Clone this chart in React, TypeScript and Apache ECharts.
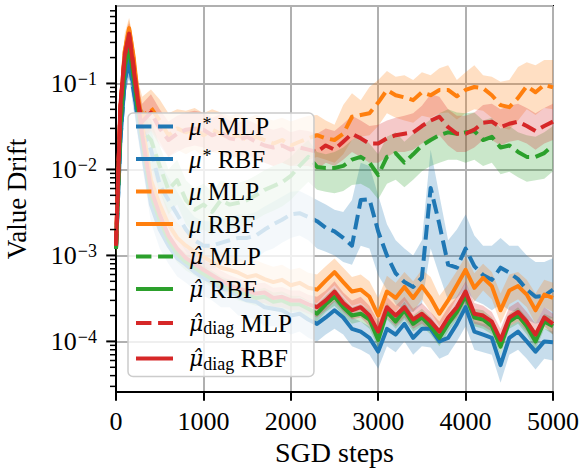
import React, { useEffect, useRef } from "react";
import * as echarts from "echarts";

const FONT = '"Liberation Serif", "Times New Roman", serif';
const HATFONT = '"DejaVu Serif", "Liberation Serif", serif';

const steps = [0, 50, 100, 150, 200, 250, 300, 400, 500, 600, 700, 800, 900, 1000, 1100, 1200, 1300, 1400, 1500, 1600, 1700, 1800, 1900, 2000, 2100, 2200, 2300, 2400, 2500, 2600, 2700, 2800, 2900, 3000, 3100, 3200, 3300, 3400, 3500, 3600, 3700, 3800, 3900, 4000, 4100, 4200, 4300, 4400, 4500, 4600, 4700, 4800, 4900, 5000];

const xTicks = [0, 1000, 2000, 3000, 4000, 5000];
const yMin = 2.58e-5;
const yMax = 0.796;
const yMajorTicks = [1e-4, 1e-3, 1e-2, 1e-1];
const yTickExponents = ["−4", "−3", "−2", "−1"];
const yMinorTicks = [3e-5, 4e-5, 5e-5, 6e-5, 7e-5, 8e-5, 9e-5, 2e-4, 3e-4, 4e-4, 5e-4, 6e-4, 7e-4, 8e-4, 9e-4, 2e-3, 3e-3, 4e-3, 5e-3, 6e-3, 7e-3, 8e-3, 9e-3, 2e-2, 3e-2, 4e-2, 5e-2, 6e-2, 7e-2, 8e-2, 9e-2, 0.2, 0.3, 0.4, 0.5, 0.6, 0.7];

// mu* MLP (blue dashed)
const muStarMLP = [0.0012, 0.022, 0.11, 0.177, 0.084, 0.043, 0.029,
  0.017, 0.0066, 0.0044, 0.003, 0.002, 0.0015, 0.0013, 0.0013, 0.0014, 0.0015,
  0.0016, 0.0016, 0.0017, 0.002, 0.0023, 0.0026, 0.003, 0.0031, 0.0028, 0.0025,
  0.0021, 0.0019, 0.0016, 0.0013, 0.0044, 0.0045, 0.0019, 0.001, 0.00062, 0.00049,
  0.00043, 0.00055, 0.0061, 0.0023, 0.00078, 0.00072, 0.0012, 0.00075, 0.00059, 0.00052,
  0.00072, 0.00063, 0.00053, 0.0004, 0.00033, 0.00034, 0.0004];
const muStarMLPHi = [0.0016, 0.035, 0.16, 0.25, 0.13, 0.07, 0.05,
  0.03, 0.012, 0.008, 0.0055, 0.0037, 0.0028, 0.0025, 0.0025, 0.0027, 0.0028,
  0.003, 0.003, 0.0032, 0.0037, 0.0042, 0.0048, 0.0055, 0.0056, 0.005, 0.0044,
  0.0039, 0.0034, 0.0032, 0.0044, 0.012, 0.011, 0.005, 0.0023, 0.0015, 0.0012,
  0.001, 0.0015, 0.017, 0.005, 0.0015, 0.002, 0.003, 0.0017, 0.0013, 0.0013,
  0.0016, 0.0013, 0.0013, 0.001, 0.00084, 0.00084, 0.00093];
const muStarMLPLo = [0.0009, 0.014, 0.07, 0.12, 0.05, 0.025, 0.016,
  0.009, 0.0036, 0.0024, 0.0016, 0.0011, 0.0008, 0.0007, 0.0007, 0.00075, 0.0008,
  0.00085, 0.00085, 0.0009, 0.0011, 0.0012, 0.0014, 0.0016, 0.0017, 0.0015, 0.0012,
  0.0011, 0.001, 0.00084, 0.00078, 0.0013, 0.0012, 0.00059, 0.0004, 0.00027, 0.00023,
  0.00022, 0.00027, 0.0012, 0.00059, 0.0003, 0.00032, 0.0004, 0.0003, 0.00027, 0.00023,
  0.00027, 0.00023, 0.00022, 0.00018, 0.00016, 0.00017, 0.00019];

// mu* RBF (blue solid)
const muStarRBF = [0.0012, 0.022, 0.11, 0.19, 0.096, 0.037, 0.017,
  0.0039, 0.002, 0.0013, 0.00093, 0.00078, 0.00064, 0.00055, 0.00049, 0.00041, 0.0004,
  0.00033, 0.0003, 0.00029, 0.00025, 0.00024, 0.00023, 0.0002, 0.00021, 0.00018, 0.00016,
  0.00019, 0.00023, 0.00019, 0.00014, 0.00013, 0.00011, 0.000076, 0.00014, 0.00012, 0.00016,
  0.00011, 0.00014, 0.00014, 0.0001, 0.00011, 0.00016, 0.00025, 0.00013, 0.00012, 0.00011,
  0.000053, 0.00011, 0.00013, 0.0001, 0.000076, 0.0001, 0.000098];
const muStarRBFHi = [0.0016, 0.03, 0.15, 0.25, 0.13, 0.05, 0.023,
  0.0053, 0.0027, 0.0017, 0.0012, 0.001, 0.00085, 0.00072, 0.00064, 0.00054, 0.00052,
  0.00044, 0.0004, 0.00038, 0.00033, 0.00031, 0.0003, 0.00026, 0.00028, 0.00024, 0.00021,
  0.00025, 0.0003, 0.00025, 0.00019, 0.00017, 0.00015, 0.0001, 0.00019, 0.00016, 0.00021,
  0.00015, 0.00019, 0.00019, 0.00014, 0.00015, 0.00021, 0.00033, 0.00017, 0.00016, 0.00015,
  0.00007, 0.00015, 0.00017, 0.00014, 0.0001, 0.00014, 0.00013];
const muStarRBFLo = [0.0008, 0.014, 0.07, 0.12, 0.06, 0.023, 0.011,
  0.0024, 0.0012, 0.0008, 0.00057, 0.00048, 0.0004, 0.00034, 0.0003, 0.00025, 0.00025,
  0.0002, 0.00019, 0.00018, 0.00015, 0.00015, 0.00014, 0.00012, 0.00013, 0.00011, 0.0001,
  0.00012, 0.00014, 0.00012, 0.000088, 0.00008, 0.00007, 0.000048, 0.000088, 0.000075, 0.0001,
  0.00007, 0.000088, 0.000085, 0.000063, 0.00007, 0.0001, 0.00015, 0.00008, 0.000075, 0.00007,
  0.000033, 0.00007, 0.00008, 0.000063, 0.000047, 0.000063, 0.00006];

// mu MLP (orange dashed)
const muMLP = [0.0013, 0.049, 0.23, 0.415, 0.19, 0.064, 0.04,
  0.052, 0.037, 0.025, 0.03, 0.027, 0.03, 0.025, 0.029, 0.026, 0.023,
  0.025, 0.022, 0.024, 0.022, 0.02, 0.022, 0.019, 0.021, 0.023, 0.025,
  0.023, 0.022, 0.026, 0.041, 0.043, 0.045, 0.06, 0.084, 0.073, 0.069,
  0.064, 0.079, 0.073, 0.084, 0.084, 0.071, 0.084, 0.091, 0.088, 0.073,
  0.056, 0.053, 0.068, 0.093, 0.079, 0.096, 0.09];
const muMLPHi = [0.0018, 0.09, 0.38, 0.58, 0.3, 0.11, 0.07,
  0.085, 0.065, 0.045, 0.05, 0.048, 0.052, 0.045, 0.05, 0.046, 0.042,
  0.045, 0.04, 0.043, 0.04, 0.037, 0.04, 0.036, 0.039, 0.042, 0.043,
  0.037, 0.033, 0.056, 0.077, 0.064, 0.091, 0.11, 0.14, 0.12, 0.125,
  0.11, 0.135, 0.125, 0.15, 0.163, 0.11, 0.135, 0.163, 0.125, 0.12,
  0.105, 0.11, 0.155, 0.177, 0.163, 0.187, 0.187];
const muMLPLo = [0.0009, 0.03, 0.14, 0.28, 0.11, 0.036, 0.023,
  0.03, 0.021, 0.014, 0.017, 0.015, 0.017, 0.014, 0.016, 0.015, 0.013,
  0.014, 0.012, 0.013, 0.012, 0.011, 0.012, 0.011, 0.012, 0.013, 0.014,
  0.013, 0.012, 0.015, 0.022, 0.024, 0.025, 0.032, 0.045, 0.04, 0.037,
  0.035, 0.042, 0.04, 0.045, 0.046, 0.038, 0.045, 0.05, 0.048, 0.04,
  0.031, 0.029, 0.037, 0.05, 0.043, 0.052, 0.05];

// mu RBF (orange solid)
const muRBF = [0.0013, 0.049, 0.24, 0.44, 0.21, 0.073, 0.033,
  0.0075, 0.0039, 0.0023, 0.0016, 0.0013, 0.0011, 0.00096, 0.00084, 0.00072, 0.00068,
  0.00063, 0.00056, 0.00059, 0.00053, 0.00049, 0.00052, 0.00045, 0.00048, 0.00042, 0.0004,
  0.00051, 0.00064, 0.00049, 0.00038, 0.0004, 0.00033, 0.0002, 0.00038, 0.00032, 0.00043,
  0.00032, 0.00044, 0.00032, 0.00021, 0.0003, 0.00045, 0.00068, 0.00042, 0.00055, 0.00044,
  0.00023, 0.00039, 0.00044, 0.00035, 0.00023, 0.00035, 0.00032];
const muRBFHi = [0.0018, 0.075, 0.34, 0.56, 0.3, 0.11, 0.05,
  0.011, 0.0058, 0.0034, 0.0024, 0.0019, 0.0016, 0.0014, 0.0013, 0.0011, 0.001,
  0.00094, 0.00085, 0.00088, 0.0008, 0.00074, 0.00078, 0.00068, 0.00072, 0.00063, 0.0006,
  0.00075, 0.00092, 0.00072, 0.00056, 0.0006, 0.0005, 0.00032, 0.00058, 0.00048, 0.00064,
  0.0005, 0.00068, 0.00056, 0.00034, 0.00046, 0.00066, 0.00098, 0.00062, 0.0008, 0.00064,
  0.00036, 0.0006, 0.00064, 0.00052, 0.00036, 0.00052, 0.00048];
const muRBFLo = [0.0009, 0.032, 0.17, 0.32, 0.14, 0.05, 0.022,
  0.0051, 0.0027, 0.0016, 0.0011, 0.0009, 0.00077, 0.00066, 0.00058, 0.0005, 0.00047,
  0.00044, 0.00039, 0.00041, 0.00037, 0.00034, 0.00036, 0.00031, 0.00033, 0.00029, 0.00028,
  0.00036, 0.00045, 0.00034, 0.00026, 0.00028, 0.00023, 0.00014, 0.00027, 0.00022, 0.0003,
  0.00022, 0.00031, 0.00022, 0.00015, 0.00021, 0.00032, 0.00048, 0.00029, 0.00039, 0.00031,
  0.00016, 0.00027, 0.00031, 0.00025, 0.00016, 0.00025, 0.00022];

// mu-hat MLP (green dashed)
const muHatMLP = [0.0012, 0.033, 0.177, 0.278, 0.125, 0.049, 0.029,
  0.022, 0.011, 0.0058, 0.0075, 0.0044, 0.0034, 0.0039, 0.0032, 0.0044, 0.0039,
  0.0041, 0.0044, 0.005, 0.0058, 0.0064, 0.0071, 0.0084, 0.011, 0.014, 0.0107,
  0.0104, 0.0104, 0.011, 0.013, 0.014, 0.012, 0.0086, 0.014, 0.0155, 0.012,
  0.015, 0.019, 0.022, 0.025, 0.027, 0.026, 0.027, 0.028, 0.022, 0.024,
  0.018, 0.019, 0.016, 0.014, 0.014, 0.0155, 0.019];
const muHatMLPHi = [0.0016, 0.05, 0.26, 0.4, 0.2, 0.08, 0.05,
  0.038, 0.019, 0.01, 0.013, 0.0075, 0.006, 0.0068, 0.0055, 0.0075, 0.0068,
  0.007, 0.0075, 0.0085, 0.0098, 0.011, 0.012, 0.014, 0.018, 0.022, 0.016,
  0.015, 0.016, 0.018, 0.022, 0.025, 0.02, 0.015, 0.024, 0.027, 0.021,
  0.026, 0.032, 0.038, 0.045, 0.05, 0.046, 0.045, 0.046, 0.037, 0.04,
  0.03, 0.032, 0.027, 0.025, 0.024, 0.027, 0.032];
const muHatMLPLo = [0.0008, 0.018, 0.1, 0.17, 0.07, 0.026, 0.015,
  0.011, 0.0056, 0.003, 0.0039, 0.0023, 0.0018, 0.002, 0.0017, 0.0023, 0.002,
  0.0021, 0.0023, 0.0026, 0.003, 0.0033, 0.0037, 0.0044, 0.0057, 0.0072, 0.0058,
  0.0055, 0.0053, 0.0056, 0.0066, 0.0068, 0.006, 0.0045, 0.0068, 0.0076, 0.0062,
  0.0076, 0.0095, 0.011, 0.012, 0.013, 0.013, 0.012, 0.013, 0.011, 0.012,
  0.0088, 0.0094, 0.0081, 0.0072, 0.0075, 0.0078, 0.0095];

// mu-hat RBF (green solid)
const muHatRBF = [0.0012, 0.033, 0.16, 0.26, 0.125, 0.052, 0.022,
  0.005, 0.0026, 0.0015, 0.00104, 0.00084, 0.00072, 0.00061, 0.00053, 0.00045, 0.00041,
  0.00037, 0.00035, 0.00032, 0.00033, 0.00029, 0.0003, 0.00027, 0.00027, 0.00024, 0.00021,
  0.00027, 0.00033, 0.00025, 0.0002, 0.00021, 0.00018, 0.000104, 0.00022, 0.00017, 0.00023,
  0.00016, 0.00019, 0.00015, 0.00011, 0.00016, 0.00022, 0.00034, 0.00019, 0.00018, 0.00015,
  0.000087, 0.00017, 0.0002, 0.00015, 0.0001, 0.00017, 0.00015];
const muHatRBFHi = [0.0015, 0.042, 0.2, 0.33, 0.16, 0.066, 0.028,
  0.0063, 0.0033, 0.0019, 0.0013, 0.00106, 0.0009, 0.00077, 0.00067, 0.00057, 0.00052,
  0.00047, 0.00044, 0.0004, 0.00042, 0.00037, 0.00038, 0.00034, 0.00034, 0.0003, 0.00027,
  0.00034, 0.00042, 0.00032, 0.00025, 0.00027, 0.00023, 0.00013, 0.00028, 0.00021, 0.00029,
  0.0002, 0.00024, 0.00019, 0.00014, 0.0002, 0.00028, 0.00043, 0.00024, 0.00023, 0.00019,
  0.00011, 0.00021, 0.00025, 0.00019, 0.00013, 0.00021, 0.00019];
const muHatRBFLo = [0.0009, 0.026, 0.125, 0.2, 0.1, 0.041, 0.017,
  0.004, 0.0021, 0.0012, 0.00083, 0.00067, 0.00058, 0.00049, 0.00042, 0.00036, 0.00033,
  0.0003, 0.00028, 0.00026, 0.00026, 0.00023, 0.00024, 0.00022, 0.00022, 0.00019, 0.00017,
  0.00022, 0.00026, 0.0002, 0.00016, 0.00017, 0.00014, 0.000083, 0.00018, 0.00014, 0.00018,
  0.00013, 0.00015, 0.00012, 0.000088, 0.00013, 0.00018, 0.00027, 0.00015, 0.00014, 0.00012,
  0.00007, 0.00014, 0.00016, 0.00012, 0.00008, 0.00014, 0.00012];

// mu-hat diag MLP (red dashed)
const muHatDiagMLP = [0.0013, 0.052, 0.21, 0.364, 0.163, 0.061, 0.036,
  0.046, 0.03, 0.022, 0.026, 0.029, 0.03, 0.029, 0.025, 0.027, 0.023,
  0.022, 0.024, 0.021, 0.019, 0.018, 0.019, 0.017, 0.018, 0.017, 0.016,
  0.019, 0.017, 0.021, 0.026, 0.023, 0.02, 0.02, 0.023, 0.025, 0.026,
  0.027, 0.032, 0.037, 0.041, 0.031, 0.026, 0.026, 0.029, 0.035, 0.036,
  0.031, 0.034, 0.036, 0.032, 0.028, 0.032, 0.036];
const muHatDiagMLPHi = [0.0018, 0.085, 0.32, 0.5, 0.26, 0.1, 0.058,
  0.075, 0.05, 0.036, 0.042, 0.046, 0.048, 0.046, 0.04, 0.044, 0.037,
  0.035, 0.038, 0.034, 0.031, 0.029, 0.031, 0.027, 0.029, 0.028, 0.026,
  0.03, 0.028, 0.034, 0.042, 0.037, 0.032, 0.033, 0.037, 0.04, 0.042,
  0.045, 0.055, 0.075, 0.07, 0.05, 0.042, 0.042, 0.046, 0.056, 0.058,
  0.05, 0.055, 0.058, 0.052, 0.045, 0.052, 0.058];
const muHatDiagMLPLo = [0.0009, 0.032, 0.13, 0.24, 0.1, 0.038, 0.022,
  0.028, 0.019, 0.014, 0.016, 0.018, 0.019, 0.018, 0.016, 0.017, 0.014,
  0.014, 0.015, 0.013, 0.012, 0.011, 0.012, 0.011, 0.011, 0.011, 0.01,
  0.012, 0.011, 0.013, 0.016, 0.014, 0.012, 0.012, 0.014, 0.016, 0.016,
  0.017, 0.02, 0.023, 0.025, 0.019, 0.016, 0.016, 0.018, 0.022, 0.022,
  0.019, 0.021, 0.022, 0.02, 0.017, 0.02, 0.022];

// mu-hat diag RBF (red solid)
const muHatDiagRBF = [0.0013, 0.056, 0.21, 0.38, 0.15, 0.064, 0.025,
  0.0058, 0.003, 0.0017, 0.0012, 0.00093, 0.0008, 0.00068, 0.00059, 0.00051, 0.00045,
  0.00041, 0.00039, 0.00036, 0.00037, 0.00032, 0.00033, 0.0003, 0.0003, 0.00027, 0.00025,
  0.0003, 0.00038, 0.00028, 0.00023, 0.00025, 0.0002, 0.00013, 0.00025, 0.0002, 0.00025,
  0.00018, 0.00021, 0.00017, 0.00013, 0.00019, 0.00025, 0.00038, 0.00021, 0.0002, 0.00017,
  0.000104, 0.00019, 0.00022, 0.00017, 0.00012, 0.00019, 0.00016];
const muHatDiagRBFHi = [0.0017, 0.075, 0.29, 0.5, 0.2, 0.085, 0.033,
  0.0076, 0.0039, 0.0022, 0.0016, 0.0012, 0.00105, 0.00089, 0.00077, 0.00067, 0.00059,
  0.00054, 0.00051, 0.00047, 0.00048, 0.00042, 0.00043, 0.00039, 0.00039, 0.00035, 0.00033,
  0.00039, 0.0005, 0.00037, 0.0003, 0.00033, 0.00026, 0.00017, 0.00033, 0.00026, 0.00033,
  0.00024, 0.00028, 0.00022, 0.00017, 0.00025, 0.00033, 0.0005, 0.00028, 0.00026, 0.00022,
  0.00014, 0.00025, 0.00029, 0.00022, 0.00016, 0.00025, 0.00021];
const muHatDiagRBFLo = [0.001, 0.042, 0.16, 0.29, 0.115, 0.049, 0.019,
  0.0045, 0.0023, 0.0013, 0.00092, 0.00072, 0.00062, 0.00052, 0.00045, 0.00039, 0.00035,
  0.00032, 0.0003, 0.00028, 0.00028, 0.00025, 0.00025, 0.00023, 0.00023, 0.00021, 0.00019,
  0.00023, 0.00029, 0.00022, 0.00018, 0.00019, 0.00015, 0.0001, 0.00019, 0.00015, 0.00019,
  0.00014, 0.00016, 0.00013, 0.0001, 0.00015, 0.00019, 0.00029, 0.00016, 0.00015, 0.00013,
  0.00008, 0.00015, 0.00017, 0.00013, 0.00009, 0.00015, 0.00012];

const BLUE = "#1f77b4";
const ORANGE = "#ff7f0e";
const GREEN = "#2ca02c";
const RED = "#d62728";

const HAT = "\u03bc\u0302";

const seriesDefs = [
  { name: "μ* MLP", label: "{i|μ}{sup|*}{r| MLP}", color: BLUE, band: "rgba(31,119,180,0.25)", dashed: true, line: muStarMLP, lo: muStarMLPLo, hi: muStarMLPHi },
  { name: "μ* RBF", label: "{i|μ}{sup|*}{r| RBF}", color: BLUE, band: "rgba(31,119,180,0.25)", dashed: false, line: muStarRBF, lo: muStarRBFLo, hi: muStarRBFHi },
  { name: "μ MLP", label: "{i|μ}{r| MLP}", color: ORANGE, band: "rgba(255,127,14,0.25)", dashed: true, line: muMLP, lo: muMLPLo, hi: muMLPHi },
  { name: "μ RBF", label: "{i|μ}{r| RBF}", color: ORANGE, band: "rgba(255,127,14,0.25)", dashed: false, line: muRBF, lo: muRBFLo, hi: muRBFHi },
  { name: HAT + " MLP", label: "{h|" + HAT + "}{r| MLP}", color: GREEN, band: "rgba(44,160,44,0.25)", dashed: true, line: muHatMLP, lo: muHatMLPLo, hi: muHatMLPHi },
  { name: HAT + " RBF", label: "{h|" + HAT + "}{r| RBF}", color: GREEN, band: "rgba(44,160,44,0.25)", dashed: false, line: muHatRBF, lo: muHatRBFLo, hi: muHatRBFHi },
  { name: HAT + "diag MLP", label: "{h|" + HAT + "}{sub|diag}{r| MLP}", color: RED, band: "rgba(214,39,40,0.25)", dashed: true, line: muHatDiagMLP, lo: muHatDiagMLPLo, hi: muHatDiagMLPHi },
  { name: HAT + "diag RBF", label: "{h|" + HAT + "}{sub|diag}{r| RBF}", color: RED, band: "rgba(214,39,40,0.25)", dashed: false, line: muHatDiagRBF, lo: muHatDiagRBFLo, hi: muHatDiagRBFHi },
];

const DASH_ICON = "path://M0,0h15.3v4h-15.3z M21.9,0h14.8v4h-14.8z";
const SOLID_ICON = "path://M0,0h36.7v4h-36.7z";

function buildOption(): any {
  const series: any[] = [];
  seriesDefs.forEach((d) => {
    series.push({
      type: "custom",
      name: d.name + " band",
      silent: true,
      clip: true,
      data: [[steps[0], d.line[0]]],
      encode: { x: 0, y: 1 },
      renderItem: (_params: any, api: any) => {
        const pts: number[][] = [];
        for (let i = 0; i < steps.length; i++) pts.push(api.coord([steps[i], d.hi[i]]));
        for (let i = steps.length - 1; i >= 0; i--) pts.push(api.coord([steps[i], d.lo[i]]));
        return { type: "polygon", shape: { points: pts }, style: { fill: d.band, stroke: "none" } };
      },
    });
    series.push({
      type: "line",
      name: d.name,
      data: steps.map((s, i) => [s, d.line[i]]),
      symbol: "none",
      showSymbol: false,
      itemStyle: { color: d.color },
      lineStyle: {
        color: d.color,
        width: 4,
        type: d.dashed ? [14.8, 6.4] : "solid",
        cap: "butt",
        join: "round",
      },
    });
  });

  const tickData = [
    ...yMajorTicks.map((v) => [0, v, 8.75, 2]),
    ...yMinorTicks.map((v) => [0, v, 5, 1.5]),
  ];
  series.push({
    type: "custom",
    name: "yticks",
    silent: true,
    clip: false,
    z: 10,
    data: tickData,
    encode: { x: 0, y: 1 },
    renderItem: (_params: any, api: any) => {
      const p = api.coord([api.value(0), api.value(1)]);
      const len = api.value(2);
      return {
        type: "line",
        shape: { x1: p[0] - len - 1, y1: p[1], x2: p[0], y2: p[1] },
        style: { stroke: "#000", lineWidth: api.value(3) },
      };
    },
  });

  const legendMap: Record<string, string> = {};
  seriesDefs.forEach((d) => (legendMap[d.name] = d.label));

  return {
    animation: false,
    backgroundColor: "#ffffff",
    grid: {
      left: 116,
      right: 28,
      top: 6,
      bottom: 77,
      containLabel: false,
      outerBoundsMode: "none",
      show: true,
      borderColor: "#000",
      borderWidth: 2,
      backgroundColor: "transparent",
    },
    xAxis: {
      type: "value",
      min: xTicks[0],
      max: xTicks[xTicks.length - 1],
      interval: 1000,
      axisLine: { show: true, lineStyle: { color: "#000", width: 2 } },
      axisTick: { show: true, length: 8.75, lineStyle: { color: "#000", width: 2 } },
      axisLabel: {
        fontFamily: FONT,
        fontSize: 26,
        color: "#000",
        margin: 16,
        formatter: (v: number) => String(v),
      },
      splitLine: { show: true, lineStyle: { color: "#b0b0b0", width: 2 } },
      name: "SGD steps",
      nameLocation: "middle",
      nameGap: 46,
      nameTextStyle: { fontFamily: FONT, fontSize: 28, lineHeight: 28, color: "#000" },
    },
    yAxis: {
      type: "log",
      logBase: 10,
      min: yMin,
      max: yMax,
      axisLine: { show: true, lineStyle: { color: "#000", width: 2 } },
      axisTick: { show: false },
      minorTick: { show: false },
      splitLine: { show: true, lineStyle: { color: "#b0b0b0", width: 2 } },
      axisLabel: {
        margin: 19,
        showMinLabel: false,
        showMaxLabel: false,
        formatter: (v: number) => {
          for (let k = 0; k < yMajorTicks.length; k++) {
            if (Math.abs(Math.log10(v) - Math.log10(yMajorTicks[k])) < 1e-6) {
              return "{b|10}{s|" + yTickExponents[k] + "}";
            }
          }
          return "";
        },
        rich: {
          b: { fontFamily: FONT, fontSize: 26, color: "#000" },
          s: { fontFamily: FONT, fontSize: 18, color: "#000", padding: [0, 0, 9, 1] },
        },
      },
      name: "Value Drift",
      nameLocation: "middle",
      nameGap: 86,
      nameTextStyle: { fontFamily: FONT, fontSize: 27, color: "#000" },
    },
    legend: {
      show: true,
      orient: "vertical",
      left: 128,
      top: 113,
      z: 20,
      selectedMode: false,
      data: seriesDefs.map((d) => ({ name: d.name, icon: d.dashed ? DASH_ICON : SOLID_ICON })),
      itemWidth: 37,
      itemHeight: 20,
      itemGap: 7.5,
      padding: [1, 22, 4, 8],
      backgroundColor: "rgba(255,255,255,0.8)",
      borderColor: "#cccccc",
      borderWidth: 1.5,
      borderRadius: 5,
      itemStyle: { borderWidth: 0 },
      formatter: (n: string) => legendMap[n] || n,
      textStyle: {
        fontFamily: FONT,
        fontSize: 25,
        lineHeight: 20,
        color: "#000",
        padding: [0, 0, 0, 11],
        rich: {
          i: { fontFamily: FONT, fontStyle: "italic", fontSize: 25, color: "#000", lineHeight: 20 },
          h: { fontFamily: HATFONT, fontStyle: "italic", fontSize: 22, color: "#000", lineHeight: 20 },
          r: { fontFamily: FONT, fontSize: 25, color: "#000", lineHeight: 20 },
          sup: { fontFamily: FONT, fontSize: 18, color: "#000", lineHeight: 14, padding: [0, 0, 6, 1] },
          sub: { fontFamily: FONT, fontSize: 18, color: "#000", lineHeight: 14, padding: [10, 0, 0, 0] },
        },
      },
    },
    series,
  };
}

export default function App() {
  const ref = useRef<HTMLDivElement>(null);
  useEffect(() => {
    if (!ref.current) return;
    const chart = echarts.init(ref.current, undefined, { renderer: "svg" });
    chart.setOption(buildOption());
    return () => chart.dispose();
  }, []);
  return (
    <div
      ref={ref}
      style={{ position: "fixed", left: 0, top: 0, width: 581, height: 469, background: "#fff" }}
    />
  );
}
